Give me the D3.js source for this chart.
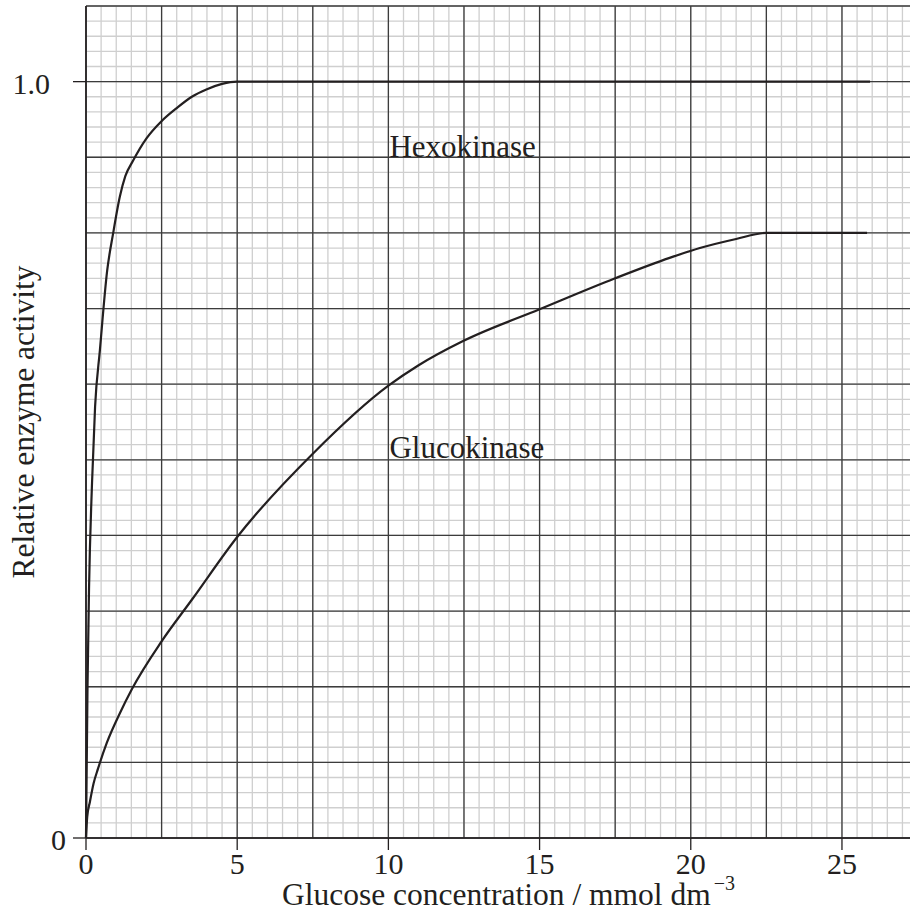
<!DOCTYPE html>
<html>
<head>
<meta charset="utf-8">
<script src="https://cdn.jsdelivr.net/npm/d3@7"></script>
<style>
  html, body { margin: 0; padding: 0; background: #fff; }
  svg { display: block; }
  text { font-family: "Liberation Serif", "Times New Roman", serif; fill: #231f20; }
</style>
</head>
<body>
<svg id="chart" width="910" height="915"></svg>
<script>
// ---- data ----
const hexoX = [0, 0.05, 0.1, 0.2, 0.3, 0.46, 0.7, 0.9, 1.12, 1.3, 1.55, 2.0, 2.48, 3.0, 3.5, 4.0, 4.5, 5.0, 10, 15, 20, 25.93];
const hexoY = [0, 0.2, 0.33, 0.47, 0.57, 0.645, 0.75, 0.80, 0.848, 0.875, 0.895, 0.925, 0.947, 0.965, 0.98, 0.99, 0.997, 1.0, 1.0, 1.0, 1.0, 1.0];
const glucoX = [0, 0.04, 0.13, 0.25, 0.4, 0.69, 1.12, 1.52, 2.5, 3.5, 5, 7.5, 10, 11, 12.47, 15, 17.5, 19.3, 20.3, 21.5, 22.5, 25.83];
const glucoY = [0, 0.028, 0.048, 0.072, 0.092, 0.126, 0.165, 0.197, 0.26, 0.315, 0.398, 0.508, 0.598, 0.625, 0.657, 0.699, 0.740, 0.767, 0.780, 0.792, 0.8, 0.8];
const xTickValues = [0, 5, 10, 15, 20, 25];
const xTickLabels = ["0", "5", "10", "15", "20", "25"];
const yTickValues = [0, 1.0];
const yTickLabels = ["0", "1.0"];
const seriesLabels = ["Hexokinase", "Glucokinase"];
const labelAnchorsX = [10, 10];
const labelAnchorsY = [0.9, 0.5025];

(function () {
// ---- layout ----
const svg = d3.select("#chart");
const pL = 86, pR = 910, pT = 6, pB = 838;
const x = d3.scaleLinear().domain([0, 27.25]).range([pL, pR]);
const y = d3.scaleLinear().domain([0, 1.1]).range([pB, pT]);

const minorColor = "#cfcfcf", majorColor = "#3c3c3c", ink = "#231f20";

// minor grid
const g = svg.append("g");
const xMinor = d3.range(0, 27.26, 0.5);
const yMinor = d3.range(0, 1.1001, 0.02);
g.selectAll(".vx").data(xMinor).join("line")
  .attr("x1", d => x(d)).attr("x2", d => x(d)).attr("y1", pT).attr("y2", pB)
  .attr("stroke", minorColor).attr("stroke-width", 1.3);
g.selectAll(".hy").data(yMinor).join("line")
  .attr("x1", pL).attr("x2", pR).attr("y1", d => y(d)).attr("y2", d => y(d))
  .attr("stroke", minorColor).attr("stroke-width", 1.3);

// major grid
const gM = svg.append("g");
const xMajor = d3.range(0, 27.26, 2.5);
const yMajor = d3.range(0, 1.1001, 0.1);
gM.selectAll(".vX").data(xMajor).join("line")
  .attr("x1", d => x(d)).attr("x2", d => x(d)).attr("y1", pT).attr("y2", pB)
  .attr("stroke", majorColor).attr("stroke-width", 1.3);
gM.selectAll(".hY").data(yMajor).join("line")
  .attr("x1", pL).attr("x2", pR).attr("y1", d => y(d)).attr("y2", d => y(d))
  .attr("stroke", majorColor).attr("stroke-width", 1.3);

// axes lines
svg.append("line").attr("x1", x(0)).attr("x2", x(0)).attr("y1", pT).attr("y2", pB)
  .attr("stroke", ink).attr("stroke-width", 1.6);
svg.append("line").attr("x1", pL).attr("x2", pR).attr("y1", y(0)).attr("y2", y(0))
  .attr("stroke", ink).attr("stroke-width", 1.6);

// x ticks
svg.append("g").selectAll("line").data(xTickValues).join("line")
  .attr("x1", d => x(d)).attr("x2", d => x(d)).attr("y1", y(0)).attr("y2", y(0) + 12)
  .attr("stroke", ink).attr("stroke-width", 1.3);
svg.append("g").selectAll("text").data(xTickValues).join("text")
  .attr("x", d => x(d)).attr("y", y(0) + 36)
  .attr("text-anchor", "middle").attr("font-size", 30)
  .text((d, i) => xTickLabels[i]);

// y ticks
svg.append("g").selectAll("line").data(yTickValues).join("line")
  .attr("x1", x(0) - 13).attr("x2", x(0)).attr("y1", d => y(d)).attr("y2", d => y(d))
  .attr("stroke", ink).attr("stroke-width", 1.3);
svg.append("g").selectAll("text").data(yTickValues).join("text")
  .attr("x", (d, i) => i === 0 ? 66 : 50)
  .attr("y", d => y(d) + 12)
  .attr("text-anchor", "end").attr("font-size", 30)
  .text((d, i) => yTickLabels[i]);

// curves
const line = d3.line().x(d => x(d[0])).y(d => y(d[1])).curve(d3.curveMonotoneX);
const hexo = hexoX.map((v, i) => [v, hexoY[i]]);
const gluco = glucoX.map((v, i) => [v, glucoY[i]]);
[hexo, gluco].forEach(s => {
  svg.append("path").attr("d", line(s)).attr("fill", "none")
    .attr("stroke", ink).attr("stroke-width", 2.2).attr("stroke-linejoin", "round");
});

// series labels
seriesLabels.forEach((t, i) => {
  svg.append("text").attr("x", x(labelAnchorsX[i]) + 1).attr("y", y(labelAnchorsY[i]))
    .attr("font-size", 31).text(t);
});

// axis titles
const xt = svg.append("text").attr("x", 282).attr("y", 905).attr("font-size", 31.5);
xt.append("tspan").text("Glucose concentration / mmol dm");
xt.append("tspan").attr("font-size", 20).attr("dy", -15).attr("dx", 3).text("−3");

svg.append("text")
  .attr("transform", `translate(34, ${(pT + pB) / 2}) rotate(-90)`)
  .attr("text-anchor", "middle").attr("font-size", 31.5)
  .text("Relative enzyme activity");
})();
</script>
</body>
</html>
